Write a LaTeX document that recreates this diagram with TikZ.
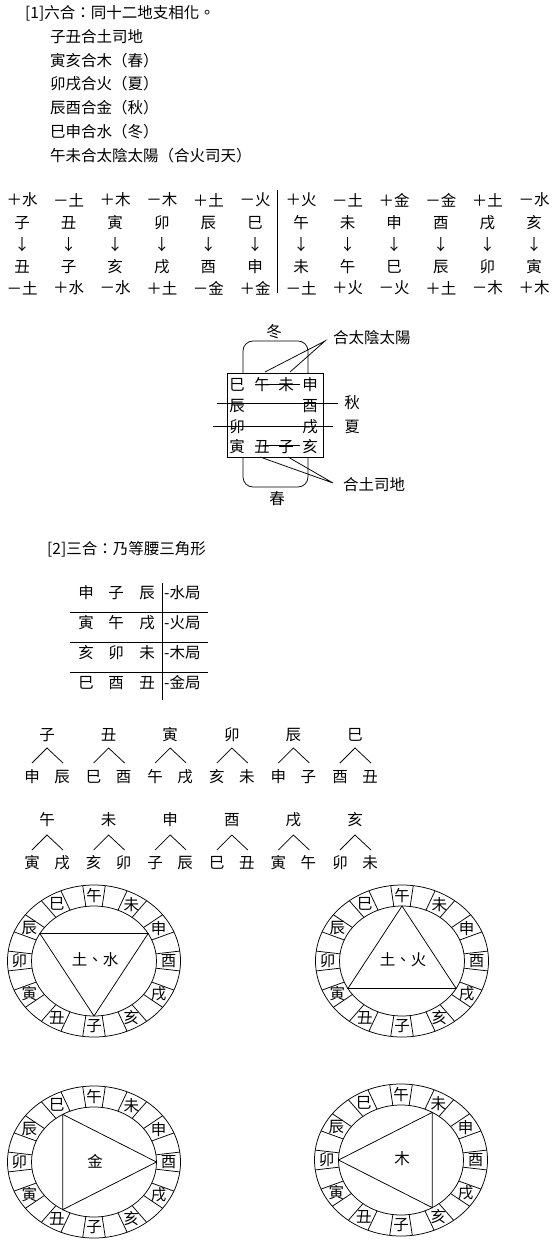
\documentclass[tikz,border=0pt]{standalone}
\usepackage{fontspec}
\setmainfont{Noto Sans CJK TC}
\tikzset{
  txt/.style={inner sep=0pt, font=\fontsize{15.5pt}{15.5pt}\selectfont},
  ln/.style={line width=0.75pt},
}
\newcommand{\zwheel}[7]{%
  \begin{scope}[shift={(#2,#3)}]
    \draw[ln] (0,0) ellipse [x radius=86.5pt, y radius=76pt];
    \draw[ln] (0,0) ellipse [x radius=62.5pt, y radius=55pt];
    \foreach \k in {0,...,23}{
      \pgfmathsetmacro\ang{7.5+15*\k}
      \draw[ln] ({62.5*cos(\ang)},{-55*sin(\ang)}) -- ({86.5*cos(\ang)},{-76*sin(\ang)});
    }
    \foreach \lab [count=\k from 0] in {酉,申,未,午,巳,辰,卯,寅,丑,子,亥,戌}{
      \node[txt] (#1-\k) at ({74.5*cos(30*\k)},{-65.5*sin(30*\k)}) {\lab};
    }
    \coordinate (#1-v1) at ({62.5*cos(#4)},{-55*sin(#4)});
    \coordinate (#1-v2) at ({62.5*cos(#5)},{-55*sin(#5)});
    \coordinate (#1-v3) at ({62.5*cos(#6)},{-55*sin(#6)});
    \draw[ln] (#1-v1) -- (#1-v2) -- (#1-v3) -- cycle;
    \node[txt] (#1-c) at (1,-1) {#7};
  \end{scope}}
\begin{document}
\begin{tikzpicture}[x=1pt,y=-1pt]
\useasboundingbox (0,0) rectangle (557,1244);

% ---------- [1] text
\node[txt, anchor=west] (h1) at (25,13) {[1]六合：同十二地支相化。};
\foreach \t [count=\k] in {子丑合土司地,寅亥合木（春）,卯戌合火（夏）,辰酉合金（秋）,巳申合水（冬）,午未合太陰太陽（合火司天）}{
  \node[txt, anchor=west] (l\k) at (50,{13+23.7*\k}) {\t};
}

% ---------- table 1
\foreach \a/\b/\c/\d [count=\k from 0] in {＋水/子/丑/－土,－土/丑/子/＋水,＋木/寅/亥/－水,－木/卯/戌/＋土,＋土/辰/酉/－金,－火/巳/申/＋金}{
  \pgfmathsetmacro\xx{22+46.6*\k}
  \node[txt] (ta\k) at (\xx,200) {\a};
  \node[txt] (tb\k) at (\xx,223) {\b};
  \node[txt] (tc\k) at (\xx,245) {↓};
  \node[txt] (td\k) at (\xx,267) {\c};
  \node[txt] (te\k) at (\xx,288) {\d};
}
\foreach \a/\b/\c/\d [count=\k from 0] in {＋火/午/未/－土,－土/未/午/＋火,＋金/申/巳/－火,－金/酉/辰/＋土,＋土/戌/卯/－木,－水/亥/寅/＋木}{
  \pgfmathsetmacro\xx{301+46.6*\k}
  \node[txt] (ra\k) at (\xx,200) {\a};
  \node[txt] (rb\k) at (\xx,223) {\b};
  \node[txt] (rc\k) at (\xx,245) {↓};
  \node[txt] (rd\k) at (\xx,267) {\c};
  \node[txt] (re\k) at (\xx,288) {\d};
}
\draw[ln] (277,190) -- (277,293);

% ---------- square diagram
\node[draw, line width=0.75pt, minimum width=96pt, minimum height=84pt, inner sep=0pt] (box) at (275,415) {};
\draw[ln, rounded corners=10pt] (243,373) -- (243,341) -- (308,341) -- (308,373);
\draw[ln, rounded corners=10pt] (243,457) -- (243,487) -- (308,487) -- (308,457);
\node[txt] (dong) at (274,332) {冬};
\node[txt] (chun) at (277,499) {春};
\node[txt] (q1) at (237,385) {巳};
\node[txt] (q2) at (262,385) {午};
\node[txt] (q3) at (286,385) {未};
\node[txt] (q4) at (310,385) {申};
\node[txt] (q5) at (237,406) {辰};
\node[txt] (q6) at (310,406) {酉};
\node[txt] (q7) at (237,427) {卯};
\node[txt] (q8) at (310,427) {戌};
\node[txt] (q9) at (237,447) {寅};
\node[txt] (q10) at (262,447) {丑};
\node[txt] (q11) at (286,447) {子};
\node[txt] (q12) at (310,447) {亥};
\draw[ln] (265,384) -- (300,384);
\draw[ln] (263,445) -- (300,445);
\node[txt] (qiu) at (352,403) {秋};
\node[txt] (xia) at (352,427) {夏};
\coordinate (qiuL) at (217,403);
\coordinate (xiaL) at (213,426);
\draw[ln] (qiuL) -- (338,403);
\draw[ln] (xiaL) -- (333,426);
\node[txt, anchor=west] (tyy) at (333,338) {合太陰太陽};
\coordinate (tyyP) at (325,341);
\coordinate (tyyA) at (265,372);
\coordinate (tyyB) at (290,372);
\draw[ln] (tyyA) -- (tyyP) -- (tyyB);
\node[txt, anchor=west] (tsd) at (343,485) {合土司地};
\coordinate (tsdP) at (333,483);
\coordinate (tsdA) at (260,457);
\coordinate (tsdB) at (288,457);
\draw[ln] (tsdA) -- (tsdP) -- (tsdB);

% ---------- [2]
\node[txt, anchor=west] (h2) at (47,549) {[2]三合：乃等腰三角形};
\foreach \a/\b/\c/\d [count=\k from 0] in {申/子/辰/-水局,寅/午/戌/-火局,亥/卯/未/-木局,巳/酉/丑/-金局}{
  \pgfmathsetmacro\yy{593+30*\k}
  \node[txt] (sa\k) at (86,\yy) {\a};
  \node[txt] (sb\k) at (116,\yy) {\b};
  \node[txt] (sc\k) at (147,\yy) {\c};
  \node[txt, anchor=west] (sd\k) at (164,\yy) {\d};
}
\foreach \yy in {612,642,672}{ \draw[ln] (70,\yy) -- (208,\yy); }
\draw[ln] (162,583) -- (162,700);

% ---------- triangles
\foreach \t/\l/\r [count=\k from 0] in {子/申/辰,丑/巳/酉,寅/午/戌,卯/亥/未,辰/申/子,巳/酉/丑}{
  \pgfmathsetmacro\xx{47+61.6*\k}
  \pgfmathsetmacro\xl{\xx-15}
  \pgfmathsetmacro\xr{\xx+15}
  \node[txt] (ut\k) at (\xx,735) {\t};
  \node[txt] (ul\k) at (\xl,777) {\l};
  \node[txt] (ur\k) at (\xr,777) {\r};
  \coordinate (up\k) at (\xx,748);
  \coordinate (ula\k) at (\xl,763);
  \coordinate (ura\k) at ({\xr+1},763);
  \draw[ln] (ula\k) -- (up\k) -- (ura\k);
}
\foreach \t/\l/\r [count=\k from 0] in {午/寅/戌,未/亥/卯,申/子/辰,酉/巳/丑,戌/寅/午,亥/卯/未}{
  \pgfmathsetmacro\xx{47+61.6*\k}
  \pgfmathsetmacro\xl{\xx-15}
  \pgfmathsetmacro\xr{\xx+15}
  \node[txt] (vt\k) at (\xx,820) {\t};
  \node[txt] (vl\k) at (\xl,863) {\l};
  \node[txt] (vr\k) at (\xr,863) {\r};
  \coordinate (vp\k) at (\xx,835);
  \coordinate (vla\k) at (\xl,850);
  \coordinate (vra\k) at ({\xr+1},850);
  \draw[ln] (vla\k) -- (vp\k) -- (vra\k);
}

% ---------- wheels
\zwheel{wa}{94}{961}{150}{30}{-90}{土、水}
\zwheel{wb}{402}{961}{90}{-30}{-150}{土、火}
\zwheel{wc}{94}{1162}{120}{0}{-120}{金}
\zwheel{wd}{401}{1160}{60}{-60}{180}{木}
\end{tikzpicture}
\end{document}
